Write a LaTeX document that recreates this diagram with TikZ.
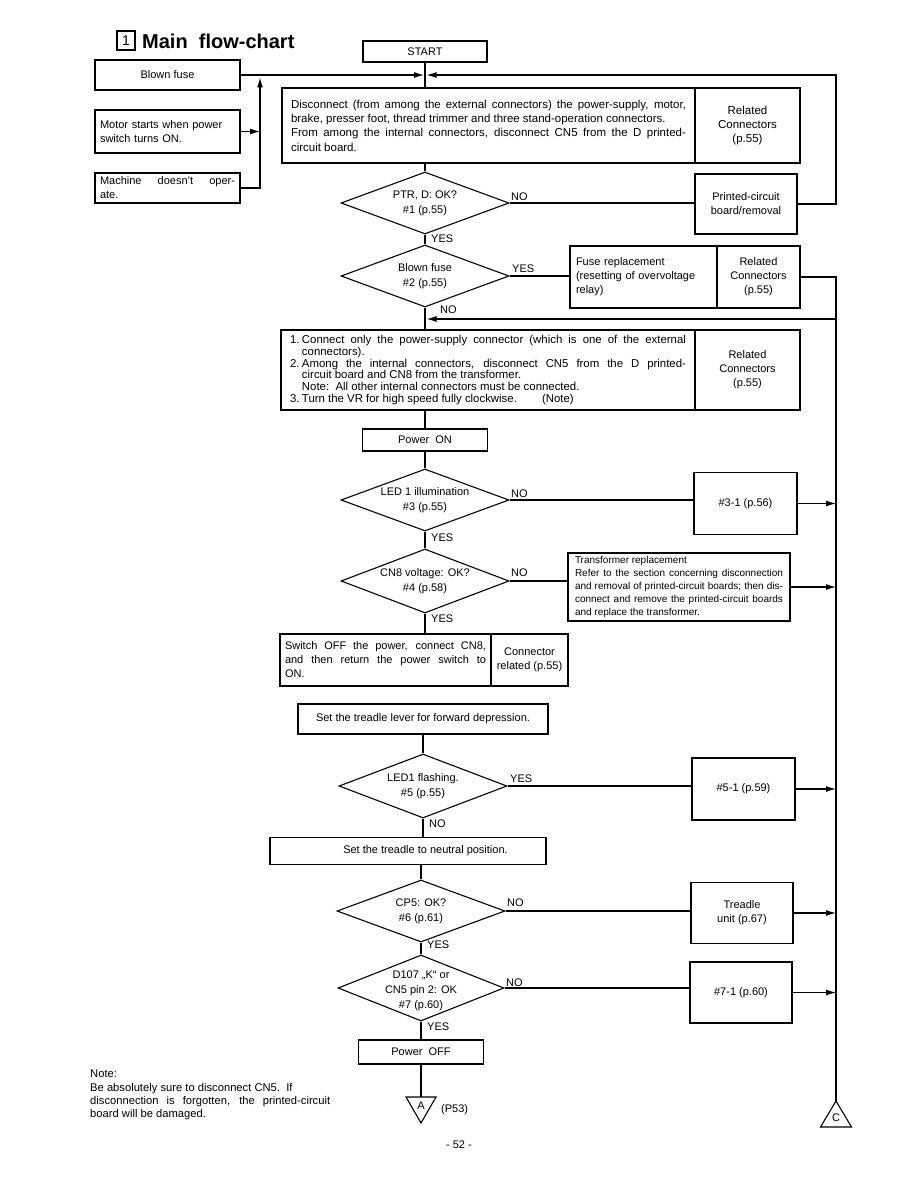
\documentclass[tikz,border=0pt]{standalone}
\usepackage{fontspec}
\setmainfont{Liberation Sans}
\usetikzlibrary{arrows.meta,shapes.geometric}
\begin{document}
\begin{tikzpicture}[x=1pt,y=-1pt,
  every node/.style={font=\fontsize{11}{14}\selectfont, inner sep=0pt},
  box/.style={draw, line width=1.1pt, rectangle, align=center},
  dia/.style={draw, line width=1.1pt, shape=diamond, minimum width=168pt, minimum height=62pt},
  dtext/.style={align=center, font=\fontsize{11}{15}\selectfont},
  lbl/.style={anchor=west, font=\fontsize{11}{13}\selectfont},
  ln/.style={line width=1.1pt},
  arr/.style={line width=1.1pt, -{Latex[length=10pt,width=6pt]}},
]
\useasboundingbox (0,0) rectangle (918,1188);

% title
\node[box, minimum width=18pt, minimum height=19pt, font=\fontsize{14}{14}\selectfont] (tbox) at (126,40.5) {1};
\node[anchor=west, font=\fontsize{20}{20}\selectfont\bfseries] (title) at (142,41) {Main\ \ flow-chart};

% top
\node[box, minimum width=124pt, minimum height=21pt] (start) at (425,51.5) {START};
\node[box, minimum width=145pt, minimum height=30pt] (fuse0) at (167.5,75) {Blown fuse};
\node[box, minimum width=145pt, minimum height=43pt, text width=135pt, align=left] (motor) at (167.5,131.5) {Motor starts when power\\switch turns ON.};
\node[box, minimum width=145pt, minimum height=30pt, text width=135pt, align=justify] (mach) at (167.5,188) {Machine doesn't oper-\linebreak ate.};

\node[box, minimum width=413pt, minimum height=75pt, text width=395pt, align=justify, font=\fontsize{11.5}{14.3}\selectfont] (disc) at (488.5,125.5) {Disconnect (from among the external connectors) the power-supply, motor,\linebreak brake, presser foot, thread trimmer and three stand-operation connectors.\\ From among the internal connectors, disconnect CN5 from the D printed-\linebreak circuit board.};
\node[box, minimum width=105pt, minimum height=75pt, font=\fontsize{11.5}{14.3}\selectfont] (discR) at (747.5,125.5) {Related\\Connectors\\(p.55)};

\node[dia] (d1) at (425,203) {};
\node[dtext] (d1t) at (425,203) {PTR, D: OK?\\\#1 (p.55)};
\node[box, minimum width=102pt, minimum height=60pt] (pcb) at (746,204) {Printed-circuit\\board/removal};

\node[dia] (d2) at (425,276) {};
\node[dtext] (d2t) at (425,276) {Blown fuse\\\#2 (p.55)};
\node[box, minimum width=147pt, minimum height=62pt, text width=135pt, align=left] (fuseL) at (643.5,277) {Fuse replacement\\(resetting of overvoltage\\relay)};
\node[box, minimum width=83pt, minimum height=62pt] (fuseR) at (758.5,277) {Related\\Connectors\\(p.55)};

\node[box, minimum width=414pt, minimum height=80pt, text width=396pt, align=justify, font=\fontsize{11.4}{11.8}\selectfont] (box3) at (488,370) {\makebox[1.05em][l]{1.}Connect only the power-supply connector (which is one of the external\linebreak
\hspace*{1.05em}connectors).\\
\makebox[1.05em][l]{2.}Among the internal connectors, disconnect CN5 from the D printed-\linebreak
\hspace*{1.05em}circuit board and CN8 from the transformer.\\
\hspace*{1.05em}Note:\ \ All other internal connectors must be connected.\\
\makebox[1.05em][l]{3.}Turn the VR for high speed fully clockwise.\hspace{2.2em}(Note)};
\node[box, minimum width=105pt, minimum height=80pt] (box3R) at (747.5,370) {Related\\Connectors\\(p.55)};

\node[box, minimum width=125pt, minimum height=22pt] (pon) at (425,440) {Power\ \ ON};

\node[dia] (d3) at (425,500) {};
\node[dtext] (d3t) at (425,500) {LED 1 illumination\\\#3 (p.55)};
\node[box, minimum width=103pt, minimum height=62pt] (b31) at (745.5,503.5) {\#3-1 (p.56)};

\node[dia, minimum height=64pt] (d4) at (425,581) {};
\node[dtext] (d4t) at (425,581) {CN8 voltage: OK?\\\#4 (p.58)};
\node[box, minimum width=222pt, minimum height=68pt, text width=208pt, align=justify, font=\fontsize{10}{13.2}\selectfont] (trans) at (679,587) {Transformer replacement\\Refer to the section concerning disconnection\linebreak and removal of printed-circuit boards; then dis-\linebreak connect and remove the printed-circuit boards\linebreak and replace the transformer.};

\node[box, minimum width=211pt, minimum height=52pt, text width=201pt, align=justify] (swL) at (385.5,660) {Switch OFF the power, connect CN8,\linebreak and then return the power switch to\linebreak ON.};
\node[box, minimum width=77pt, minimum height=52pt] (swR) at (529.5,660) {Connector\\related (p.55)};

\node[box, minimum width=250pt, minimum height=30pt] (lever) at (423,719) {Set the treadle lever for forward depression.};

\node[dia, minimum height=64pt] (d5) at (423,786) {};
\node[dtext] (d5t) at (423,786) {LED1 flashing.\\\#5 (p.55)};
\node[box, minimum width=103pt, minimum height=62pt] (b51) at (743.5,789) {\#5-1 (p.59)};

\node[box, minimum width=276pt, minimum height=27pt] (neutral) at (408,851) {\hspace*{35pt}Set the treadle to neutral position.};

\node[dia] (d6) at (421,911) {};
\node[dtext] (d6t) at (421,911) {CP5: OK?\\\#6 (p.61)};
\node[box, minimum width=102pt, minimum height=61pt] (tread) at (742,913) {Treadle\\unit (p.67)};

\node[dia, minimum width=166pt, minimum height=66pt] (d7) at (421,988) {};
\node[dtext] (d7t) at (421,991) {D107 „K“ or\\CN5 pin 2: OK\\\#7 (p.60)};
\node[box, minimum width=102pt, minimum height=61pt] (b71) at (741,992.5) {\#7-1 (p.60)};

\node[box, minimum width=125pt, minimum height=24pt] (poff) at (421,1052) {Power\ \ OFF};

% end connectors
\coordinate (tA) at (421,1097);
\draw[ln] (406,1097) -- (436,1097) -- (421,1123) -- cycle;
\node[font=\fontsize{11}{11}\selectfont] (lA) at (421,1105.5) {A};
\node[lbl] (p53) at (441,1110) {(P53)};

\coordinate (cC) at (836,1101);
\draw[ln] (cC) -- (851.5,1127) -- (820.5,1127) -- cycle;
\node[font=\fontsize{11}{11}\selectfont] (lC) at (836,1117.5) {C};

% note and page
\node[anchor=north west, text width=240pt, align=justify, font=\fontsize{11.2}{13.3}\selectfont] (note) at (90,1070) {Note:\\Be absolutely sure to disconnect CN5.\ \ If\\disconnection is forgotten, the printed-circuit\linebreak board will be damaged.};
\node (page) at (459,1145) {- 52 -};

% coordinates
\coordinate (mL) at (424,75);
\coordinate (mR) at (426.5,75);
\coordinate (jtop) at (260,77.5);
\coordinate (rtop) at (836,75);
\coordinate (nOut) at (836,319);
\coordinate (nIn) at (426.5,319);

% connectors top
\draw[ln] (start.south) -- (start.south |- disc.north);
\draw[arr] (fuse0.east) -- (mL);
\draw[arr] (mach.east) -| (jtop);
\draw[arr] (motor.east) -- (motor.east -| jtop);
\draw[arr] (pcb.east) -| (rtop) -- (mR);

\draw[ln] (disc.south -| d1.north) -- (d1.north);
\draw[ln] (d1.east) -- (d1.east -| pcb.west);
\draw[ln] (d1.south) -- (d2.north);
\draw[ln] (d2.east) -- (d2.east -| fuseL.west);
\draw[ln] (d2.south) -- (d2.south |- box3.north);
\draw[ln] (fuseR.east) -| (cC);
\draw[arr] (nOut) -- (nIn);

\draw[ln] (pon.north |- box3.south) -- (pon.north);
\draw[ln] (pon.south) -- (d3.north);
\draw[ln] (d3.east) -- (d3.east -| b31.west);
\draw[arr] (b31.east) -- (b31.east -| cC);
\draw[ln] (d3.south) -- (d4.north);
\draw[ln] (d4.east) -- (d4.east -| trans.west);
\draw[arr] (trans.east) -- (trans.east -| cC);
\draw[ln] (d4.south) -- (d4.south |- swL.north);
\draw[ln] (swL.south -| d4.south) -- (swL.south -| d4.south |- lever.north);
\draw[ln] (lever.south -| d5.north) -- (d5.north);
\draw[ln] (d5.east) -- (d5.east -| b51.west);
\draw[arr] (b51.east) -- (b51.east -| cC);
\draw[ln] (d5.south) -- (d5.south |- neutral.north);
\draw[ln] (neutral.south -| d6.north) -- (d6.north);
\draw[ln] (d6.east) -- (d6.east -| tread.west);
\draw[arr] (tread.east) -- (tread.east -| cC);
\draw[ln] (d6.south) -- (d7.north);
\draw[ln] (d7.east) -- (d7.east -| b71.west);
\draw[arr] (b71.east) -- (b71.east -| cC);
\draw[ln] (d7.south) -- (poff.north);
\draw[ln] (poff.south) -- (tA);

% labels
\node[lbl] (l1n) at (511,197) {NO};
\node[lbl] (l1y) at (431,239) {YES};
\node[lbl] (l2y) at (512,269) {YES};
\node[lbl] (l2n) at (440,310) {NO};
\node[lbl] (l3n) at (511,494) {NO};
\node[lbl] (l3y) at (431,538) {YES};
\node[lbl] (l4n) at (511,573) {NO};
\node[lbl] (l4y) at (431,619) {YES};
\node[lbl] (l5y) at (510,779) {YES};
\node[lbl] (l5n) at (429,824) {NO};
\node[lbl] (l6n) at (507,903) {NO};
\node[lbl] (l6y) at (427,945) {YES};
\node[lbl] (l7n) at (506,983) {NO};
\node[lbl] (l7y) at (427,1027) {YES};
\end{tikzpicture}
\end{document}
